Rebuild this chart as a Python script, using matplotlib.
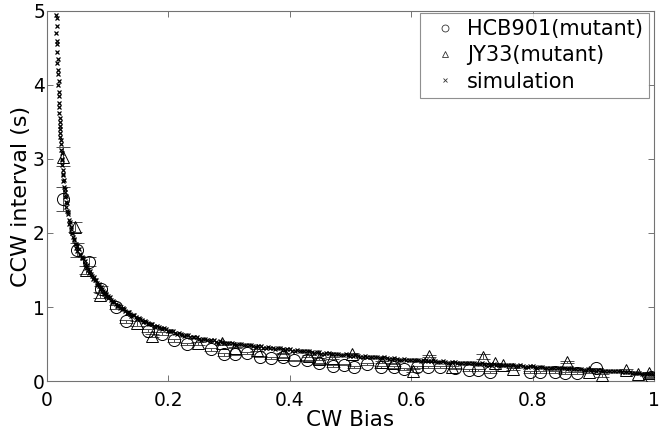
import matplotlib
matplotlib.use("Agg")
import matplotlib.pyplot as plt
from matplotlib.lines import Line2D

plt.rcParams['font.family'] = ['DejaVu Sans']

# ---- data ----
hcb_x = [0.027, 0.050, 0.069, 0.089, 0.114, 0.130, 0.166, 0.189, 0.209, 0.231,
         0.270, 0.292, 0.310, 0.330, 0.351, 0.369, 0.389, 0.407, 0.428, 0.448,
         0.471, 0.489, 0.506, 0.527, 0.550, 0.572, 0.588, 0.610, 0.628, 0.647,
         0.672, 0.695, 0.710, 0.730, 0.796, 0.812, 0.837, 0.853, 0.873, 0.904,
         0.995]
hcb_y = [2.46, 1.77, 1.61, 1.24, 1.00, 0.81, 0.68, 0.64, 0.55, 0.50,
         0.43, 0.36, 0.36, 0.38, 0.33, 0.31, 0.32, 0.28, 0.28, 0.24,
         0.20, 0.22, 0.19, 0.23, 0.19, 0.19, 0.16, 0.19, 0.19, 0.19,
         0.17, 0.15, 0.15, 0.12, 0.12, 0.12, 0.12, 0.11, 0.11, 0.17,
         0.05]
hcb_err = [0.16, 0.10, 0.06, 0.05, 0.03, 0.02, 0.02, 0.02, 0.02, 0.02,
           0.02, 0.02, 0.01, 0.01, 0.01, 0.01, 0.01, 0.01, 0.01, 0.01,
           0.01, 0.01, 0.01, 0.01, 0.01, 0.01, 0.01, 0.01, 0.01, 0.01,
           0.01, 0.01, 0.01, 0.01, 0.01, 0.01, 0.01, 0.01, 0.01, 0.01,
           0.01]

jy_x = [0.027, 0.046, 0.065, 0.087, 0.148, 0.173, 0.249, 0.288, 0.310, 0.346,
        0.389, 0.432, 0.448, 0.470, 0.502, 0.552, 0.570, 0.603, 0.629, 0.667,
        0.718, 0.738, 0.751, 0.768, 0.857, 0.893, 0.914, 0.954, 0.974, 0.992]
jy_y = [3.03, 2.08, 1.50, 1.16, 0.78, 0.61, 0.51, 0.51, 0.45, 0.42,
        0.37, 0.34, 0.30, 0.31, 0.37, 0.26, 0.24, 0.14, 0.34, 0.19,
        0.33, 0.24, 0.21, 0.16, 0.26, 0.12, 0.08, 0.15, 0.10, 0.11]
jy_err = [0.13, 0.07, 0.05, 0.04, 0.03, 0.02, 0.02, 0.02, 0.01, 0.01,
          0.01, 0.01, 0.01, 0.01, 0.01, 0.01, 0.01, 0.02, 0.01, 0.01,
          0.03, 0.01, 0.01, 0.01, 0.01, 0.01, 0.02, 0.01, 0.01, 0.01]

# simulation, first batch
sim_x = [0.015, 0.016, 0.016, 0.017, 0.017, 0.018, 0.018, 0.019, 0.019, 0.020,
         0.021, 0.021, 0.022, 0.023, 0.023, 0.024, 0.025, 0.026, 0.026, 0.027,
         0.028, 0.029, 0.030, 0.031, 0.032, 0.033, 0.034, 0.036, 0.037, 0.039,
         0.041, 0.043, 0.044, 0.046, 0.048, 0.050,
         0.052, 0.055, 0.058, 0.060, 0.063, 0.066, 0.068, 0.071, 0.074, 0.077,
         0.080, 0.083, 0.086, 0.089, 0.092, 0.095, 0.098, 0.101, 0.105, 0.109,
         0.113, 0.117, 0.121, 0.125, 0.129, 0.133, 0.137, 0.141, 0.146, 0.151,
         0.156, 0.161, 0.166, 0.171, 0.176, 0.181, 0.187, 0.193, 0.199, 0.205,
         0.211, 0.217, 0.223, 0.229, 0.236, 0.243, 0.250, 0.257, 0.264, 0.271,
         0.278, 0.285, 0.292, 0.300, 0.308, 0.316, 0.324, 0.332, 0.340, 0.348,
         0.356, 0.364, 0.372, 0.380, 0.388, 0.396, 0.404, 0.412, 0.420, 0.428,
         0.436, 0.444, 0.452, 0.460, 0.468, 0.476, 0.484, 0.492, 0.500, 0.508,
         0.516, 0.524, 0.532, 0.540, 0.548, 0.556, 0.564, 0.572, 0.580, 0.588,
         0.596, 0.604, 0.612, 0.620, 0.628, 0.636, 0.644, 0.652, 0.660, 0.668,
         0.676, 0.684, 0.692, 0.700, 0.708, 0.716, 0.724, 0.732, 0.740, 0.748,
         0.756, 0.764, 0.772, 0.780, 0.788, 0.796, 0.804, 0.812, 0.820, 0.828,
         0.836, 0.844, 0.852, 0.860, 0.868, 0.876, 0.884, 0.892, 0.900, 0.908,
         0.916, 0.924, 0.932, 0.940, 0.948, 0.956, 0.964, 0.972, 0.980, 0.988,
         0.995]
sim_y = [4.95, 4.80, 4.60, 4.45, 4.30, 4.15, 4.00, 3.90, 3.75, 3.62,
         3.50, 3.40, 3.30, 3.20, 3.12, 3.00, 2.92, 2.85, 2.78, 2.70,
         2.62, 2.55, 2.48, 2.42, 2.35, 2.30, 2.25, 2.18, 2.12, 2.05,
         2.00, 1.95, 1.90, 1.85, 1.80, 1.76,
         1.78, 1.72, 1.68, 1.66, 1.58, 1.57, 1.50, 1.49, 1.42, 1.41,
         1.36, 1.33, 1.28, 1.27, 1.22, 1.20, 1.15, 1.15, 1.10, 1.08,
         1.04, 1.03, 0.99, 0.98, 0.94, 0.93, 0.90, 0.89, 0.86, 0.85,
         0.82, 0.81, 0.78, 0.77, 0.75, 0.74, 0.71, 0.71, 0.68, 0.67,
         0.65, 0.65, 0.62, 0.62, 0.60, 0.60, 0.57, 0.57, 0.55, 0.55,
         0.53, 0.54, 0.51, 0.52, 0.50, 0.50, 0.48, 0.49, 0.47, 0.47,
         0.45, 0.46, 0.44, 0.44, 0.43, 0.43, 0.41, 0.42, 0.40, 0.40,
         0.39, 0.39, 0.37, 0.38, 0.36, 0.37, 0.35, 0.36, 0.34, 0.35,
         0.33, 0.34, 0.32, 0.33, 0.31, 0.32, 0.30, 0.31, 0.29, 0.30,
         0.29, 0.29, 0.28, 0.28, 0.27, 0.28, 0.26, 0.27, 0.25, 0.26,
         0.25, 0.25, 0.24, 0.24, 0.23, 0.24, 0.22, 0.23, 0.22, 0.22,
         0.21, 0.21, 0.20, 0.21, 0.19, 0.20, 0.19, 0.19, 0.18, 0.18,
         0.17, 0.18, 0.17, 0.17, 0.16, 0.16, 0.15, 0.16, 0.15, 0.15,
         0.14, 0.14, 0.13, 0.13, 0.12, 0.12, 0.11, 0.11, 0.10, 0.10,
         0.09]

# simulation, second batch
sim2_x = [0.015, 0.016, 0.017, 0.018, 0.018, 0.019, 0.020, 0.020, 0.021, 0.022,
          0.022, 0.023, 0.024, 0.025, 0.027, 0.028, 0.029, 0.031, 0.033, 0.035,
          0.038, 0.040, 0.042, 0.045, 0.047, 0.049,
          0.054, 0.057, 0.062, 0.065, 0.070, 0.073, 0.076, 0.079, 0.082, 0.085,
          0.088, 0.091, 0.094, 0.097, 0.100, 0.103, 0.107, 0.111, 0.115, 0.119,
          0.123, 0.127, 0.131, 0.135, 0.139, 0.143, 0.148, 0.153, 0.158, 0.163,
          0.168, 0.173, 0.178, 0.184, 0.190, 0.196, 0.202, 0.208, 0.214, 0.220,
          0.226, 0.232, 0.240, 0.247, 0.254, 0.261, 0.268, 0.275, 0.282, 0.289,
          0.296, 0.304, 0.312, 0.320, 0.328, 0.336, 0.344, 0.352, 0.360, 0.368,
          0.376, 0.384, 0.392, 0.400, 0.408, 0.416, 0.424, 0.432, 0.440, 0.448,
          0.456, 0.464, 0.472, 0.480, 0.488, 0.496, 0.504, 0.512, 0.520, 0.528,
          0.536, 0.544, 0.552, 0.560, 0.568, 0.576, 0.584, 0.592, 0.600, 0.608,
          0.616, 0.624, 0.632, 0.640, 0.648, 0.656, 0.664, 0.672, 0.680, 0.688,
          0.696, 0.704, 0.712, 0.720, 0.728, 0.736, 0.744, 0.752, 0.760, 0.768,
          0.776, 0.784, 0.792, 0.800, 0.808, 0.816, 0.824, 0.832, 0.840, 0.848,
          0.856, 0.864, 0.872, 0.880, 0.888, 0.896, 0.904, 0.912, 0.920, 0.928,
          0.936, 0.944, 0.952, 0.960, 0.968, 0.976, 0.984, 0.992, 0.998]
sim2_y = [4.70, 4.90, 4.55, 4.35, 4.20, 4.05, 3.85, 3.70, 3.55, 3.45,
          3.35, 3.25, 3.08, 2.98, 2.80, 2.72, 2.60, 2.50, 2.40, 2.28,
          2.15, 2.08, 2.00, 1.92, 1.85, 1.82,
          1.70, 1.66, 1.62, 1.53, 1.46, 1.45, 1.38, 1.37, 1.30, 1.31,
          1.24, 1.25, 1.18, 1.18, 1.12, 1.13, 1.07, 1.07, 1.02, 1.01,
          0.97, 0.97, 0.92, 0.93, 0.88, 0.89, 0.84, 0.84, 0.80, 0.80,
          0.77, 0.77, 0.73, 0.73, 0.70, 0.70, 0.67, 0.67, 0.64, 0.64,
          0.61, 0.62, 0.59, 0.59, 0.56, 0.57, 0.54, 0.55, 0.52, 0.53,
          0.51, 0.51, 0.49, 0.50, 0.48, 0.48, 0.46, 0.47, 0.45, 0.45,
          0.43, 0.44, 0.42, 0.43, 0.41, 0.41, 0.40, 0.40, 0.38, 0.39,
          0.37, 0.38, 0.36, 0.36, 0.35, 0.35, 0.34, 0.34, 0.33, 0.33,
          0.32, 0.32, 0.31, 0.31, 0.30, 0.30, 0.29, 0.29, 0.28, 0.29,
          0.27, 0.28, 0.27, 0.27, 0.26, 0.26, 0.25, 0.26, 0.24, 0.25,
          0.24, 0.24, 0.23, 0.23, 0.22, 0.23, 0.21, 0.22, 0.21, 0.21,
          0.20, 0.20, 0.19, 0.20, 0.18, 0.19, 0.18, 0.18, 0.17, 0.17,
          0.16, 0.17, 0.16, 0.16, 0.15, 0.15, 0.14, 0.15, 0.14, 0.14,
          0.13, 0.13, 0.12, 0.12, 0.11, 0.11, 0.10, 0.10, 0.09]

x_ticks = [0, 0.2, 0.4, 0.6, 0.8, 1]
x_labels = ['0', '0.2', '0.4', '0.6', '0.8', '1']
y_ticks = [0, 1, 2, 3, 4, 5]
y_labels = ['0', '1', '2', '3', '4', '5']

# ---- figure ----
fig = plt.figure(figsize=(6.61, 4.34), dpi=100)
ax = fig.add_axes([0.0711, 0.1221, 0.9183, 0.8526])

ax.errorbar(hcb_x, hcb_y, yerr=hcb_err, fmt='o', mfc='none', mec='black',
            mew=0.7, ms=8.7, ecolor='0.3', elinewidth=0.7, capsize=5,
            capthick=0.7, zorder=3)
ax.errorbar(jy_x, jy_y, yerr=jy_err, fmt='^', mfc='none', mec='black',
            mew=0.7, ms=8.7, ecolor='0.3', elinewidth=0.7, capsize=5,
            capthick=0.7, zorder=3)
ax.plot(sim_x + sim2_x, sim_y + sim2_y, linestyle='none', marker='x',
        ms=2.8, mew=0.9, color='black', zorder=4)

ax.set_xlim(0, 1)
ax.set_ylim(0, 5)
ax.set_xticks(x_ticks)
ax.set_xticklabels(x_labels)
ax.set_yticks(y_ticks)
ax.set_yticklabels(y_labels)
ax.tick_params(axis='both', direction='in', length=4.5, width=0.7,
               color='0.45', labelsize=13.4, top=True, right=True)
ax.tick_params(axis='x', pad=7)
ax.tick_params(axis='y', pad=1.5)
for s in ax.spines.values():
    s.set_color('0.45')
    s.set_linewidth(0.8)

ax.set_xlabel('CW Bias', fontsize=15.5, labelpad=0.5)
ax.set_ylabel('CCW interval (s)', fontsize=16, labelpad=1.5)

handles = [
    Line2D([], [], linestyle='none', marker='o', mfc='none', mec='0.2',
           mew=0.6, ms=5),
    Line2D([], [], linestyle='none', marker='^', mfc='none', mec='0.2',
           mew=0.6, ms=5),
    Line2D([], [], linestyle='none', marker='x', color='0.2', mew=0.6,
           ms=2.2),
]
leg = ax.legend(handles, ['HCB901(mutant)', 'JY33(mutant)', 'simulation'],
                loc='upper right', bbox_to_anchor=(0.9918, 0.9946),
                borderaxespad=0, fontsize=15, frameon=True, fancybox=False,
                handlelength=1.75, handletextpad=0.18, labelspacing=0.3,
                borderpad=0.3)
leg.get_frame().set_edgecolor('0.45')
leg.get_frame().set_linewidth(0.8)

fig.savefig('out.png', dpi=100)
